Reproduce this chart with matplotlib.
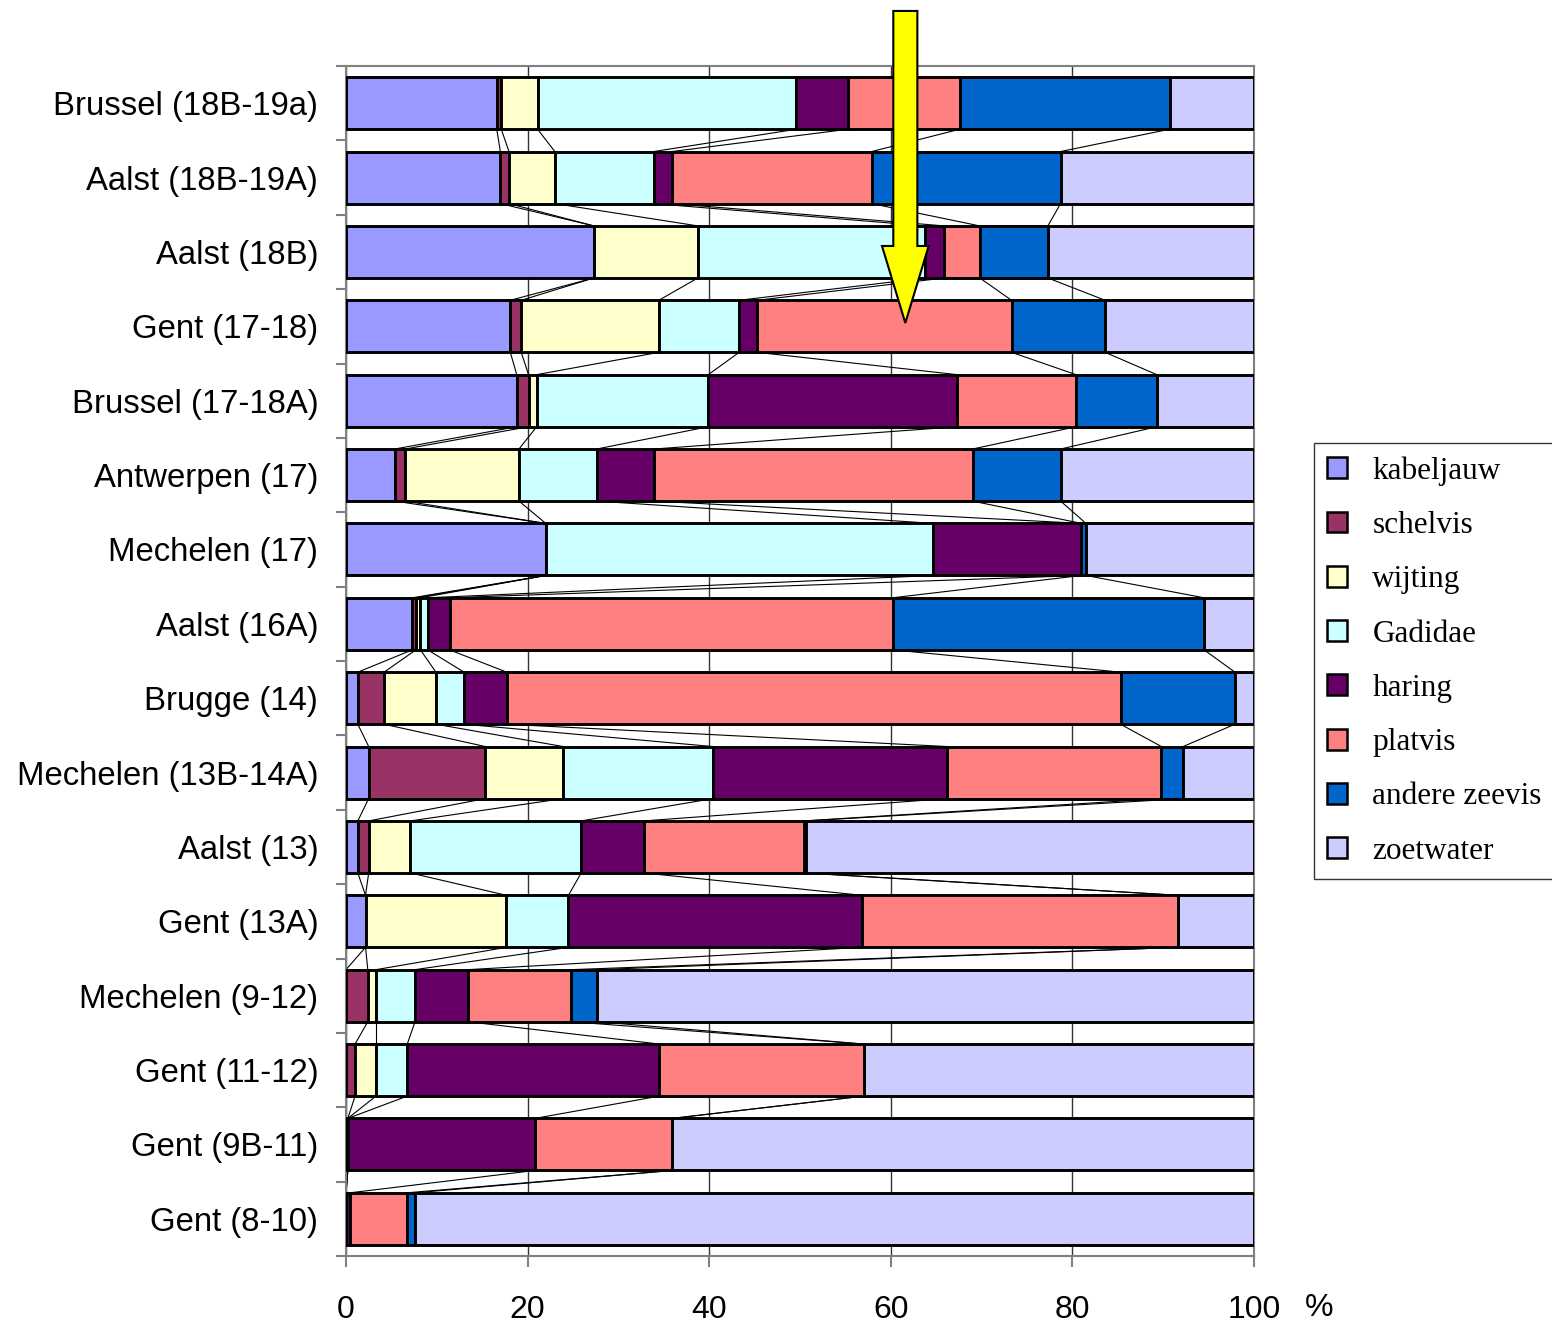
import numpy as np
import matplotlib
matplotlib.use("Agg")
import matplotlib.pyplot as plt
from matplotlib.patches import FancyArrow, Patch

# sites, top to bottom
sites = ["Brussel (18B-19a)", "Aalst (18B-19A)", "Aalst (18B)", "Gent (17-18)",
         "Brussel (17-18A)", "Antwerpen (17)", "Mechelen (17)", "Aalst (16A)",
         "Brugge (14)", "Mechelen (13B-14A)", "Aalst (13)", "Gent (13A)",
         "Mechelen (9-12)", "Gent (11-12)", "Gent (9B-11)", "Gent (8-10)"]

# percentages per fish group
kabeljauw = [16.6, 17.0, 27.3, 18.1, 18.8, 5.35, 22.0, 7.3, 1.3, 2.5, 1.3, 2.15, 0, 0, 0, 0]
schelvis = [0.5, 0.95, 0, 1.2, 1.3, 1.15, 0, 0.4, 2.9, 12.85, 1.2, 0, 2.4, 1.0, 0.2, 0]
wijting = [4.0, 5.05, 11.45, 15.15, 0.9, 12.55, 0, 0.5, 5.7, 8.55, 4.6, 15.5, 0.9, 2.3, 0, 0]
gadidae = [28.5, 10.9, 25.05, 8.85, 18.9, 8.55, 42.7, 0.8, 3.1, 16.5, 18.8, 6.85, 4.3, 3.45, 0, 0]
haring = [5.7, 2.0, 2.1, 2.0, 27.4, 6.3, 16.3, 2.4, 4.7, 25.8, 6.9, 32.3, 5.8, 27.75, 20.6, 0.45]
platvis = [12.3, 22.0, 3.9, 28.0, 13.1, 35.1, 0, 48.8, 67.6, 23.6, 17.6, 34.8, 11.35, 22.5, 15.1, 6.3]
andere_zeevis = [23.1, 20.8, 7.5, 10.3, 8.9, 9.7, 0.5, 34.3, 12.6, 2.4, 0.3, 0, 2.9, 0, 0, 0.9]
zoetwater = [9.3, 21.3, 22.7, 16.4, 10.7, 21.3, 18.5, 5.5, 2.1, 7.8, 49.3, 8.4, 72.35, 43.0, 64.1, 92.35]

series_names = ["kabeljauw", "schelvis", "wijting", "Gadidae", "haring",
                "platvis", "andere zeevis", "zoetwater"]
series_values = [kabeljauw, schelvis, wijting, gadidae, haring,
                 platvis, andere_zeevis, zoetwater]
colors = ["#9999FF", "#993366", "#FFFFCC", "#CCFFFF", "#660066",
          "#FF8080", "#0066CC", "#CCCCFF"]

arrow_x = 61.6  # where the yellow arrow points

fig = plt.figure(figsize=(15.52, 13.26), dpi=100)
ax = fig.add_axes([346 / 1552, 1 - 1256 / 1326, 908 / 1552, 1190 / 1326])

y = np.arange(len(sites))
bar_h = 0.70
left = np.zeros(len(sites))
ends = []
for name, vals, col in zip(series_names, series_values, colors):
    vals = np.array(vals, dtype=float)
    ax.barh(y, vals, left=left, height=bar_h, color=col, edgecolor="black",
            linewidth=2.1, zorder=3, label=name)
    left = left + vals
    ends.append(left.copy())

# series lines between neighbouring bars
for cum in ends[:-1]:
    for r in range(len(sites) - 1):
        ax.plot([cum[r], cum[r + 1]], [r + bar_h / 2, r + 1 - bar_h / 2],
                color="black", linewidth=0.8, zorder=2)

ax.set_xlim(0, 100)
ax.set_ylim(len(sites) - 0.5, -0.5)
ax.set_xticks([0, 20, 40, 60, 80, 100])
ax.set_xticklabels(["0", "20", "40", "60", "80", "100"], fontsize=23,
                   family="Liberation Sans")
ax.set_yticks(y)
ax.set_yticklabels(sites, fontsize=23.7, family="Liberation Sans")
ax.set_yticks(np.arange(-0.5, len(sites), 1), minor=True)
ax.tick_params(axis="y", which="major", length=0, pad=20)
ax.tick_params(axis="y", which="minor", length=7, color="#808080", width=1.5)
ax.tick_params(axis="x", length=8, color="#808080", width=1.5, pad=20)
ax.grid(axis="x", color="#333333", linewidth=1, zorder=0)
for s in ax.spines.values():
    s.set_color("#808080")
    s.set_linewidth(1.5)

ax.text(1.072, -0.044, "%", transform=ax.transAxes, fontsize=23,
        family="Liberation Sans", ha="center", va="center")

# yellow arrow
arr = FancyArrow(arrow_x, -1.24, 0, 4.195, width=2.65, head_width=5.14,
                 head_length=1.035, length_includes_head=True,
                 facecolor="#FFFF00", edgecolor="black", linewidth=1.5,
                 clip_on=False, zorder=6)
ax.add_patch(arr)

handles = [Patch(facecolor=c, edgecolor="black", linewidth=1.8) for c in colors]
leg = fig.legend(handles, series_names, loc="upper left",
                 bbox_to_anchor=(1314 / 1552, 1 - 443 / 1326),
                 bbox_transform=fig.transFigure, borderaxespad=0,
                 frameon=True, fancybox=False, edgecolor="black",
                 prop={"family": "Liberation Serif", "size": 22.5},
                 handlelength=0.65, handleheight=0.65, handletextpad=0.8,
                 labelspacing=0.81, borderpad=0.42)
leg.get_frame().set_linewidth(1)

fig.savefig("out.png", dpi=100)
